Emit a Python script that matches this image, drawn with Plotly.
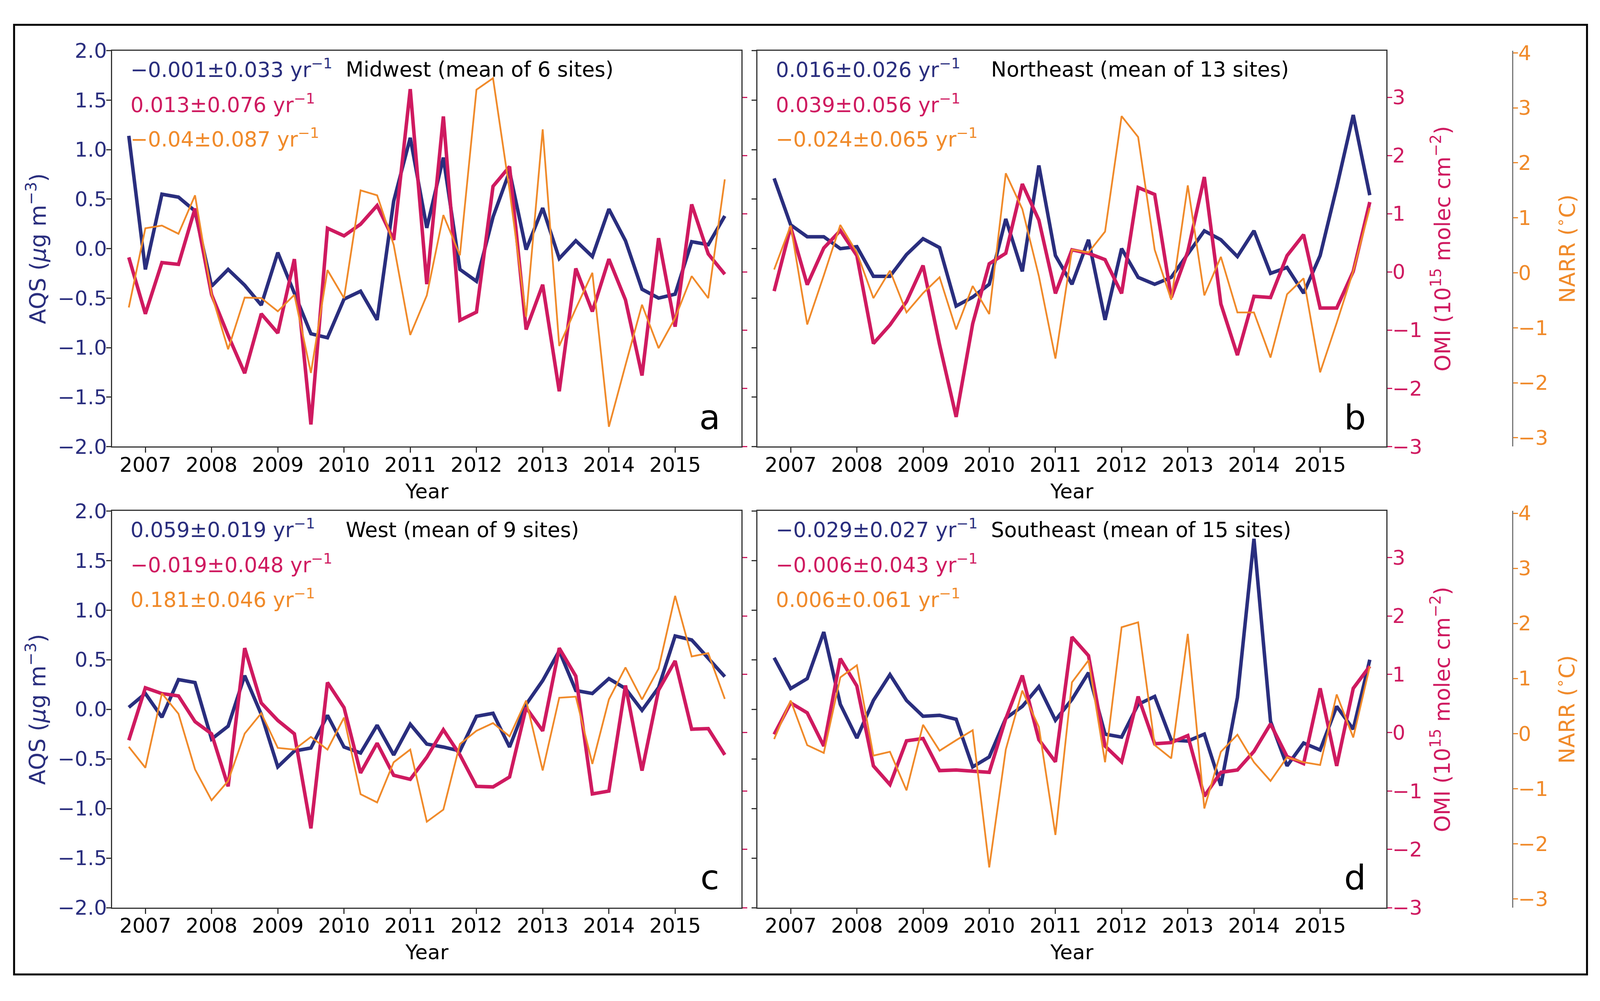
import plotly.graph_objects as go

# The page is photographed in a 4096 x 2563 viewport (body margin 8 px).
VIEW_W, VIEW_H = 4096, 2563
REF_W, REF_H = 4433, 2563
SX = VIEW_W / REF_W
OFF = 8
W, H = VIEW_W - OFF, VIEW_H - OFF

# ---------------- data ----------------
years = [2006.75 + 0.25 * k for k in range(37)]
year_ticks = [2007, 2008, 2009, 2010, 2011, 2012, 2013, 2014, 2015]
year_labels = ["2007", "2008", "2009", "2010", "2011", "2012", "2013", "2014", "2015"]

regions = ["Midwest (mean of 6 sites)", "Northeast (mean of 13 sites)",
           "West (mean of 9 sites)", "Southeast (mean of 15 sites)"]
letters = ["a", "b", "c", "d"]

trend_aqs = ["−0.001±0.033", "0.016±0.026", "0.059±0.019", "−0.029±0.027"]
trend_omi = ["0.013±0.076", "0.039±0.056", "−0.019±0.048", "−0.006±0.043"]
trend_narr = ["−0.04±0.087", "−0.024±0.065", "0.181±0.046", "0.006±0.061"]

aqs_mw = [1.14, -0.21, 0.55, 0.52, 0.38, -0.38, -0.21, -0.37, -0.57, -0.04, -0.45, -0.86, -0.90,
          -0.51, -0.43, -0.72, 0.48, 1.12, 0.21, 0.92, -0.21, -0.33, 0.32, 0.78, -0.01, 0.41,
          -0.10, 0.08, -0.08, 0.40, 0.08, -0.41, -0.50, -0.46, 0.07, 0.04, 0.33]
omi_mw = [0.25, -0.72, 0.16, 0.13, 1.09, -0.39, -1.09, -1.74, -0.72, -1.05, 0.22, -2.62, 0.75,
          0.62, 0.82, 1.14, 0.55, 3.14, -0.21, 2.67, -0.83, -0.69, 1.47, 1.81, -0.99, -0.22,
          -2.05, 0.06, -0.68, 0.22, -0.48, -1.78, 0.58, -0.94, 1.16, 0.31, -0.04]
narr_mw = [-0.63, 0.81, 0.86, 0.71, 1.41, -0.39, -1.39, -0.45, -0.46, -0.70, -0.40, -1.82, 0.05,
           -0.46, 1.50, 1.41, 0.51, -1.13, -0.41, 1.05, 0.32, 3.33, 3.54, 1.50, -0.80, 2.61,
           -1.33, -0.65, 0.00, -2.80, -1.68, -0.58, -1.37, -0.82, -0.06, -0.46, 1.70]

aqs_ne = [0.71, 0.24, 0.12, 0.12, 0.00, 0.02, -0.28, -0.28, -0.06, 0.10, 0.01, -0.58, -0.49,
          -0.36, 0.30, -0.23, 0.84, -0.07, -0.36, 0.09, -0.72, 0.00, -0.29, -0.36, -0.29, -0.06,
          0.18, 0.09, -0.08, 0.18, -0.25, -0.19, -0.45, -0.07, 0.62, 1.35, 0.54]
omi_ne = [-0.33, 0.77, -0.22, 0.41, 0.71, 0.28, -1.23, -0.91, -0.51, 0.11, -1.25, -2.49, -0.89,
          0.14, 0.32, 1.51, 0.89, -0.37, 0.38, 0.32, 0.21, -0.37, 1.45, 1.33, -0.44, 0.35,
          1.63, -0.55, -1.43, -0.42, -0.44, 0.28, 0.64, -0.62, -0.62, 0.01, 1.20]
narr_ne = [0.06, 0.86, -0.94, -0.05, 0.87, 0.37, -0.46, 0.04, -0.72, -0.37, -0.08, -1.03, -0.24,
           -0.75, 1.81, 1.16, -0.06, -1.56, 0.42, 0.37, 0.75, 2.85, 2.47, 0.42, -0.49, 1.59,
           -0.41, 0.29, -0.72, -0.72, -1.54, -0.39, -0.10, -1.81, -0.91, 0.03, 1.18]

aqs_w = [0.02, 0.16, -0.08, 0.30, 0.27, -0.30, -0.17, 0.34, -0.05, -0.58, -0.42, -0.39, -0.06,
         -0.38, -0.44, -0.16, -0.46, -0.15, -0.35, -0.38, -0.42, -0.07, -0.04, -0.38, 0.05, 0.29,
         0.59, 0.19, 0.16, 0.31, 0.21, -0.01, 0.22, 0.74, 0.70, 0.51, 0.33]
omi_w = [-0.13, 0.77, 0.67, 0.63, 0.19, -0.02, -0.92, 1.45, 0.51, 0.21, -0.02, -1.64, 0.86,
         0.43, -0.69, -0.18, -0.73, -0.80, -0.42, 0.05, -0.38, -0.92, -0.93, -0.76, 0.43, 0.03,
         1.45, 0.97, -1.05, -1.00, 0.81, -0.65, 0.73, 1.23, 0.06, 0.07, -0.38]
narr_w = [-0.24, -0.62, 0.73, 0.36, -0.65, -1.21, -0.86, 0.00, 0.37, -0.26, -0.29, -0.06, -0.29,
          0.29, -1.10, -1.25, -0.52, -0.29, -1.60, -1.38, -0.19, 0.05, 0.19, -0.05, 0.60, -0.67,
          0.65, 0.67, -0.55, 0.62, 1.20, 0.62, 1.18, 2.50, 1.40, 1.46, 0.63]

aqs_se = [0.52, 0.21, 0.31, 0.78, 0.05, -0.29, 0.09, 0.35, 0.09, -0.07, -0.06, -0.10, -0.58,
          -0.48, -0.09, 0.03, 0.23, -0.11, 0.10, 0.37, -0.25, -0.28, 0.05, 0.13, -0.31, -0.32,
          -0.25, -0.77, 0.12, 1.72, -0.12, -0.57, -0.34, -0.41, 0.03, -0.20, 0.50]
omi_se = [-0.03, 0.51, 0.34, -0.23, 1.27, 0.80, -0.57, -0.89, -0.14, -0.10, -0.65, -0.64, -0.66,
          -0.68, 0.24, 0.98, -0.12, -0.50, 1.64, 1.32, -0.23, -0.50, 0.62, -0.19, -0.17, -0.05,
          -1.09, -0.68, -0.64, -0.32, 0.15, -0.41, -0.53, 0.76, -0.57, 0.76, 1.14]
narr_se = [-0.10, 0.60, -0.21, -0.35, 1.02, 1.24, -0.40, -0.33, -1.03, 0.16, -0.31, -0.12, 0.06,
           -2.43, -0.29, 0.78, 0.12, -1.84, 0.93, 1.33, -0.52, 1.93, 2.02, -0.21, -0.45, 1.81,
           -1.36, -0.33, -0.02, -0.52, -0.86, -0.43, -0.52, -0.57, 0.71, -0.07, 1.22]

aqs_series = [aqs_mw, aqs_ne, aqs_w, aqs_se]
omi_series = [omi_mw, omi_ne, omi_w, omi_se]
narr_series = [narr_mw, narr_ne, narr_w, narr_se]

aqs_ticks = [-2.0, -1.5, -1.0, -0.5, 0.0, 0.5, 1.0, 1.5, 2.0]
aqs_labels = ["−2.0", "−1.5", "−1.0", "−0.5", "0.0", "0.5", "1.0", "1.5", "2.0"]
omi_ticks = [-3, -2, -1, 0, 1, 2, 3]
omi_labels = ["−3", "−2", "−1", "0", "1", "2", "3"]
narr_ticks = [-3, -2, -1, 0, 1, 2, 3, 4]
narr_labels = ["−3", "−2", "−1", "0", "1", "2", "3", "4"]

# ---------------- style ----------------
NAVY = "#2a2e7e"
CRIMSON = "#cf1a60"
ORANGE = "#f08a2a"
SPINE = "#333333"
FONT = "DejaVu Sans"
TICK_FS = 52
TREND_FS = 53
TITLE_FS = 53
LETTER_FS = 88

# panel boxes in reference pixels: left, right, top, bottom
boxes = [(311, 2054, 102, 1140), (2099, 3841, 102, 1140),
         (311, 2054, 1309, 2349), (2099, 3841, 1309, 2349)]
NARR_X = 4191


def px(x):
    return (x * SX - OFF) / W


def py(y):
    return 1 - (y - OFF) / H


fig = go.Figure()
layout = dict(
    width=W, height=H,
    margin=dict(l=0, r=0, t=0, b=0),
    paper_bgcolor="white", plot_bgcolor="white",
    showlegend=False,
    font=dict(family=FONT, size=TICK_FS, color="black"),
)

annotations = []


def yname(n):
    return "y" if n == 1 else f"y{n}"


def ykey(n):
    return "yaxis" if n == 1 else f"yaxis{n}"


for i in range(4):
    L, R, T, B = boxes[i]
    left_col = i in (0, 2)
    xn = i + 1
    xname = "x" if xn == 1 else f"x{xn}"
    xkey = "xaxis" if xn == 1 else f"xaxis{xn}"
    ya, yo, yn = 3 * i + 1, 3 * i + 2, 3 * i + 3

    layout[xkey] = dict(
        domain=[px(L), px(R)], anchor=yname(ya), range=[2006.5, 2016.0],
        tickmode="array", tickvals=year_ticks, ticktext=year_labels,
        ticks="outside", ticklen=13, tickwidth=3, tickcolor=SPINE, ticklabelstandoff=-14,
        showline=True, linecolor=SPINE, linewidth=3, mirror=True,
        showgrid=False, zeroline=False,
        tickfont=dict(family=FONT, size=TICK_FS, color="black"),
    )
    layout[ykey(ya)] = dict(
        domain=[py(B), py(T)], anchor=xname, range=[-2.0, 2.0], side="left",
        tickmode="array", tickvals=aqs_ticks, ticktext=aqs_labels,
        ticks="outside", ticklen=12, tickwidth=3, tickcolor=SPINE, ticklabelstandoff=-12,
        showline=True, linecolor=SPINE, linewidth=3,
        showgrid=False, zeroline=False, showticklabels=left_col,
        tickfont=dict(family=FONT, size=TICK_FS, color=NAVY),
    )
    layout[ykey(yo)] = dict(
        overlaying=yname(ya), anchor=xname, range=[-3.0, 3.8], side="right",
        tickmode="array", tickvals=omi_ticks, ticktext=omi_labels,
        ticks="outside", ticklen=12, tickwidth=3, tickcolor=CRIMSON, ticklabelstandoff=-10,
        showline=True, linecolor=SPINE, linewidth=3,
        showgrid=False, zeroline=False, showticklabels=not left_col,
        tickfont=dict(family=FONT, size=TICK_FS, color=CRIMSON),
    )
    if left_col:
        layout[ykey(yn)] = dict(overlaying=yname(ya), anchor=xname, range=[-3.16, 4.04],
                                side="right", visible=False, showgrid=False, zeroline=False)
    else:
        layout[ykey(yn)] = dict(
            overlaying=yname(ya), anchor="free", position=px(NARR_X), range=[-3.16, 4.04],
            side="right", tickmode="array", tickvals=narr_ticks, ticktext=narr_labels,
            ticks="outside", ticklen=12, tickwidth=3, tickcolor=ORANGE, ticklabelstandoff=-10,
            showline=True, linecolor="#777777", linewidth=3,
            showgrid=False, zeroline=False,
            tickfont=dict(family=FONT, size=TICK_FS, color=ORANGE),
        )

    fig.add_trace(go.Scatter(x=years, y=aqs_series[i], mode="lines", xaxis=xname,
                             yaxis=yname(ya), line=dict(color=NAVY, width=9)))
    fig.add_trace(go.Scatter(x=years, y=omi_series[i], mode="lines", xaxis=xname,
                             yaxis=yname(yo), line=dict(color=CRIMSON, width=9)))
    fig.add_trace(go.Scatter(x=years, y=narr_series[i], mode="lines", xaxis=xname,
                             yaxis=yname(yn), line=dict(color=ORANGE, width=4.5)))

    for txt, col, dy in ((trend_aqs[i], NAVY, 46), (trend_omi[i], CRIMSON, 138),
                         (trend_narr[i], ORANGE, 229)):
        annotations.append(dict(
            x=px(L + 48), y=py(T + dy), xref="paper", yref="paper",
            xanchor="left", yanchor="middle", showarrow=False,
            text=f"{txt} yr<sup>−1</sup>", font=dict(family=FONT, size=TREND_FS, color=col)))
    annotations.append(dict(
        x=px(L + 645), y=py(T + 49), xref="paper", yref="paper",
        xanchor="left", yanchor="middle", showarrow=False,
        text=regions[i], font=dict(family=FONT, size=TITLE_FS, color="black")))
    annotations.append(dict(
        x=px(L + 1655), y=py(T + 961), xref="paper", yref="paper",
        xanchor="center", yanchor="middle", showarrow=False,
        text=letters[i], font=dict(family=FONT, size=LETTER_FS, color="black")))
    annotations.append(dict(
        x=px((L + R) / 2), y=py(B + 117), xref="paper", yref="paper",
        xanchor="center", yanchor="middle", showarrow=False,
        text="Year", font=dict(family=FONT, size=TICK_FS, color="black")))
    cy = (T + B) / 2
    if left_col:
        annotations.append(dict(
            x=px(100), y=py(cy), xref="paper", yref="paper", textangle=-90,
            xanchor="center", yanchor="middle", showarrow=False,
            text="AQS (<i>μ</i>g m<sup>−3</sup>)",
            font=dict(family=FONT, size=57, color=NAVY)))
    else:
        annotations.append(dict(
            x=px(3992), y=py(cy), xref="paper", yref="paper", textangle=-90,
            xanchor="center", yanchor="middle", showarrow=False,
            text="OMI (10<sup>15</sup> molec cm<sup>−2</sup>)",
            font=dict(family=FONT, size=55, color=CRIMSON)))
        annotations.append(dict(
            x=px(4337), y=py(cy), xref="paper", yref="paper", textangle=-90,
            xanchor="center", yanchor="middle", showarrow=False,
            text="NARR (<sup>∘</sup>C)",
            font=dict(family=FONT, size=55, color=ORANGE)))

layout["annotations"] = annotations
layout["shapes"] = [dict(type="rect", xref="paper", yref="paper",
                         x0=px(39), x1=px(4397), y0=py(2524), y1=py(34),
                         line=dict(color="black", width=5), fillcolor="rgba(0,0,0,0)")]

fig.update_layout(**layout)
fig.write_html("out.html")
